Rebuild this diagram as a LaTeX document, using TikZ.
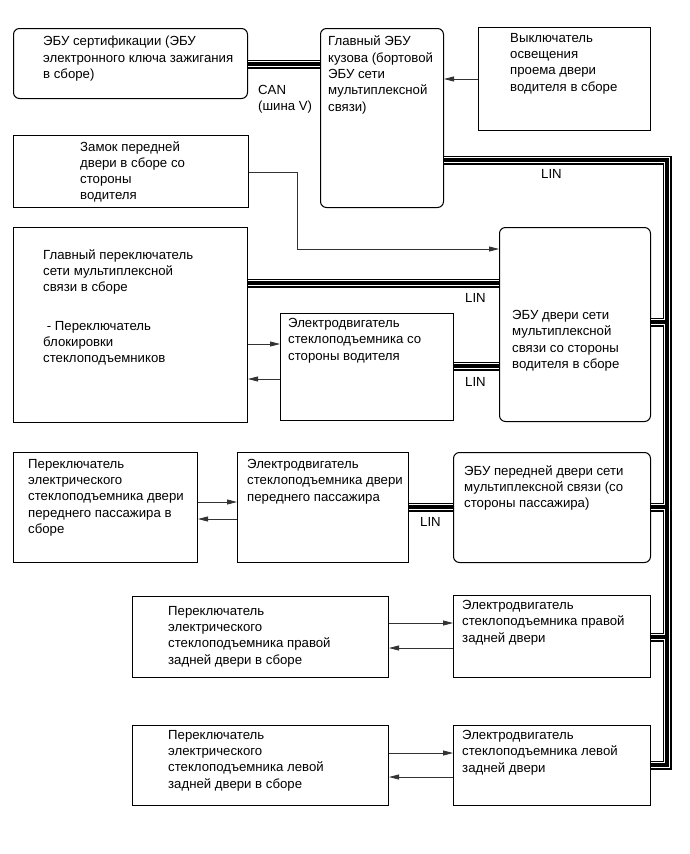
\documentclass[tikz,border=0pt]{standalone}
\usepackage{fontspec}
\setmainfont{Liberation Sans}
\usetikzlibrary{arrows.meta}
\tikzset{
  box/.style={draw=black, line width=1pt, rectangle, anchor=north west, inner sep=0pt},
  rbox/.style={box, rounded corners=6pt},
  txt/.style={anchor=north west, inner sep=0pt, align=left, yshift=-2pt, font=\fontsize{13.2}{16.3}\selectfont},
  arr/.style={draw=black!80, line width=0.8pt, -{Triangle[length=10pt,width=5pt]}},
  busA/.style={line width=9pt, black, line join=miter},
  busB/.style={line width=6.6pt, white, line join=miter},
  busC/.style={line width=3.6pt, black, line join=miter},
}
\begin{document}
\begin{tikzpicture}[x=1pt,y=-1pt]
\fill[white] (0,0) rectangle (690,854);
\useasboundingbox (0,0) rectangle (690,854);

% boxes
\node[rbox, minimum width=234pt, minimum height=70pt]  (b1)  at (13,28) {};
\node[rbox, minimum width=123pt, minimum height=179pt] (b2)  at (320,28) {};
\node[box,  minimum width=172pt, minimum height=103pt] (b3)  at (478,27) {};
\node[box,  minimum width=235pt, minimum height=72pt]  (b4)  at (13,135) {};
\node[box,  minimum width=234pt, minimum height=195pt] (b5)  at (13,227) {};
\node[rbox, minimum width=151pt, minimum height=194pt] (b6)  at (499,227) {};
\node[box,  minimum width=173pt, minimum height=107pt] (b7)  at (280,313) {};
\node[box,  minimum width=184pt, minimum height=110pt] (b8)  at (13,452) {};
\node[box,  minimum width=171pt, minimum height=110pt] (b9)  at (237,452) {};
\node[rbox, minimum width=197pt, minimum height=110pt] (b10) at (453,452) {};
\node[box,  minimum width=256pt, minimum height=81pt]  (b11) at (132,596) {};
\node[box,  minimum width=197pt, minimum height=82pt]  (b12) at (453,595) {};
\node[box,  minimum width=256pt, minimum height=80pt]  (b13) at (132,725) {};
\node[box,  minimum width=197pt, minimum height=80pt]  (b14) at (453,725) {};

% texts
\node[txt] (t1) at (43,34) {ЭБУ сертификации (ЭБУ\\электронного ключа зажигания\\в сборе)};
\node[txt] (t2) at (328,34) {Главный ЭБУ\\кузова (бортовой\\ЭБУ сети\\мультиплексной\\связи)};
\node[txt] (t3) at (510,31) {Выключатель\\освещения\\проема двери\\водителя в сборе};
\node[txt] (t4) at (80,139) {Замок передней\\двери в сборе со\\стороны\\водителя};
\node[txt] (t5) at (43,247) {Главный переключатель\\сети мультиплексной\\связи в сборе};
\node[txt] (t5b) at (43,319) {\ - Переключатель\\блокировки\\стеклоподъемников};
\node[txt] (t6) at (512,308) {ЭБУ двери сети\\мультиплексной\\связи со стороны\\водителя в сборе};
\node[txt] (t7) at (288,316) {Электродвигатель\\стеклоподъемника со\\стороны водителя};
\node[txt] (t8) at (28,457) {Переключатель\\электрического\\стеклоподъемника двери\\переднего пассажира в\\сборе};
\node[txt] (t9) at (247,457) {Электродвигатель\\стеклоподъемника двери\\переднего пассажира};
\node[txt] (t10) at (464,463) {ЭБУ передней двери сети\\мультиплексной связи (со\\стороны пассажира)};
\node[txt] (t11) at (168,604) {Переключатель\\электрического\\стеклоподъемника правой\\задней двери в сборе};
\node[txt] (t12) at (462,598) {Электродвигатель\\стеклоподъемника правой\\задней двери};
\node[txt] (t13) at (168,728) {Переключатель\\электрического\\стеклоподъемника левой\\задней двери в сборе};
\node[txt] (t14) at (462,728) {Электродвигатель\\стеклоподъемника левой\\задней двери};

% bus labels
\node[txt] (lcan) at (258,83) {CAN\\(шина V)};
\node[txt] (lin1) at (541,167) {LIN};
\node[txt] (lin2) at (465,291) {LIN};
\node[txt] (lin3) at (465,375) {LIN};
\node[txt] (lin4) at (420,515) {LIN};

% bus
\coordinate (bt) at (667,160);
\coordinate (bb) at (667,765);
\newcommand\buspaths{
  (b1.east |- 0,64) -- (b2.west |- 0,64)
  (b2.east |- bt) -- (bt) -- (bb) -- (b14.east |- bb)
  (b5.east |- 0,283) -- (b6.west |- 0,283)
  (b7.east |- 0,366) -- (b6.west |- 0,366)
  (b6.east |- 0,322) -- (bt |- 0,322)
  (b9.east |- 0,507) -- (b10.west |- 0,507)
  (b10.east |- 0,507) -- (bt |- 0,507)
  (b12.east |- 0,637) -- (bt |- 0,637)
}
\draw[busA] \buspaths;
\draw[busB] \buspaths;
\draw[busC] \buspaths;

% arrows
\draw[arr] (b3.west |- 0,79) -- (b2.east |- 0,79);
\coordinate (k1) at (297,172);
\draw[arr] (b4.east |- k1) -- (k1) |- (b6.west |- 0,249);
\draw[arr] (b5.east |- 0,344) -- (b7.west |- 0,344);
\draw[arr] (b7.west |- 0,379) -- (b5.east |- 0,379);
\draw[arr] (b8.east |- 0,502) -- (b9.west |- 0,502);
\draw[arr] (b9.west |- 0,519) -- (b8.east |- 0,519);
\draw[arr] (b11.east |- 0,623) -- (b12.west |- 0,623);
\draw[arr] (b12.west |- 0,648) -- (b11.east |- 0,648);
\draw[arr] (b13.east |- 0,753) -- (b14.west |- 0,753);
\draw[arr] (b14.west |- 0,777) -- (b13.east |- 0,777);
\end{tikzpicture}
\end{document}
